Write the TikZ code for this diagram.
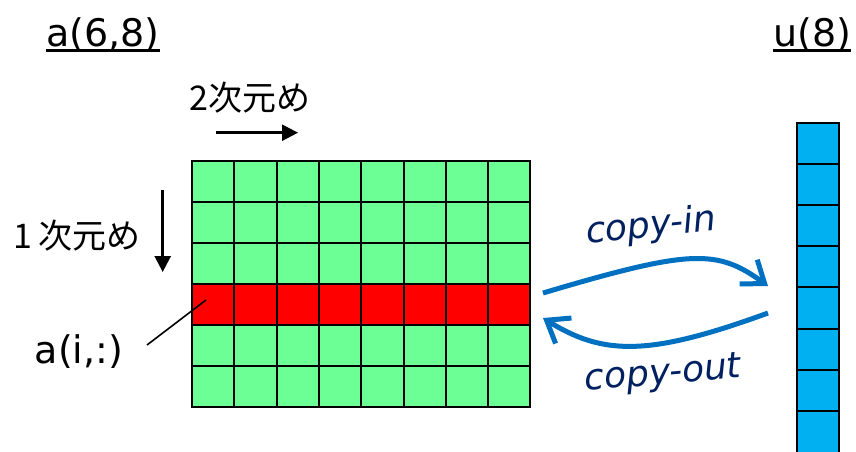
\documentclass[tikz,border=0pt]{standalone}
\usepackage{fontspec}
\setmainfont{DejaVu Sans}
\newfontfamily\jpfont{Noto Sans CJK JP}
\usetikzlibrary{arrows.meta}
\definecolor{cellgreen}{RGB}{108,255,150}
\definecolor{rowred}{RGB}{255,0,0}
\definecolor{vecblue}{RGB}{0,176,240}
\definecolor{flowblue}{RGB}{0,112,192}
\definecolor{navytext}{RGB}{0,32,96}
\begin{document}
\begin{tikzpicture}[x=1pt,y=-1pt,
  cellline/.style={black, line width=2pt},
  title/.style={inner sep=0pt, font=\fontsize{38}{40}\selectfont},
  jplabel/.style={inner sep=0pt, font=\jpfont\fontsize{34}{38}\selectfont},
  flowlabel/.style={inner sep=0pt, text=navytext, font=\itshape\fontsize{36}{40}\selectfont},
  dimarrow/.style={black, line width=2.5pt, -{Triangle[length=16pt,width=16pt]}},
  flow/.style={flowblue, line width=5pt, -{Straight Barb[length=20pt,width=30pt]}}]
\useasboundingbox (0,0) rectangle (856,451);

% 6x8 array a, with row i highlighted
\fill[cellgreen] (192,160.7) rectangle (530.4,407.3);
\fill[rowred] (192,284) rectangle (530.4,325.1);
\foreach \i in {1,...,7}
  \draw[cellline] (192+42.3*\i,160.7) -- (192+42.3*\i,407.3);
\foreach \j in {1,...,5}
  \draw[cellline] (192,160.7+41.1*\j) -- (530.4,160.7+41.1*\j);
\draw[cellline] (192,160.7) rectangle (530.4,407.3);

% vector u(8); its last cell runs on past the lower edge
\fill[vecblue] (797,123) rectangle (839.3,462);
\foreach \j in {1,...,7}
  \draw[cellline] (797,123+41.1*\j) -- (839.3,123+41.1*\j);
\draw[cellline] (797,462) -- (797,123) -- (839.3,123) -- (839.3,462);

% titles
\node[title, anchor=base west] (titleA) at (46,46.5) {a(6,8)};
\draw[line width=2.2pt] ([yshift=-4pt]titleA.base west) -- ([yshift=-4pt]titleA.base east);
\node[title, anchor=base west] (titleU) at (773,46.5) {u(8)};
\draw[line width=2.2pt] ([yshift=-4pt]titleU.base west) -- ([yshift=-4pt]titleU.base east);

% dimension labels and arrows
\node[jplabel] (dim2) at (250,98) {2次元め};
\coordinate (dim2a) at (216,132.7);
\coordinate (dim2b) at (298,132.7);
\draw[dimarrow] (dim2a) -- (dim2b);

\node[jplabel] (dim1) at (77,236) {1\,次元め};
\coordinate (dim1a) at (162.7,190);
\coordinate (dim1b) at (162.7,272);
\draw[dimarrow] (dim1a) -- (dim1b);

% row label with leader line
\node[title] (rowlbl) at (79,352) {a(i,:)};
\coordinate (leadA) at (147,345);
\coordinate (rowpt) at (206,300);
\draw[line width=1.6pt] (leadA) -- (rowpt);

% copy-in / copy-out
\coordinate (ciS) at (543,293);
\coordinate (ciE) at (768,286);
\draw[flow] (ciS) .. controls (691,249) and (717,249) .. (ciE);
\node[flowlabel, rotate=6] (cin) at (651,227) {copy-in};

\coordinate (coS) at (768,313);
\coordinate (coE) at (543,318);
\draw[flow] (coS) .. controls (650,356) and (604,356) .. (coE);
\node[flowlabel, rotate=5] (cout) at (663,375) {copy-out};
\end{tikzpicture}
\end{document}
